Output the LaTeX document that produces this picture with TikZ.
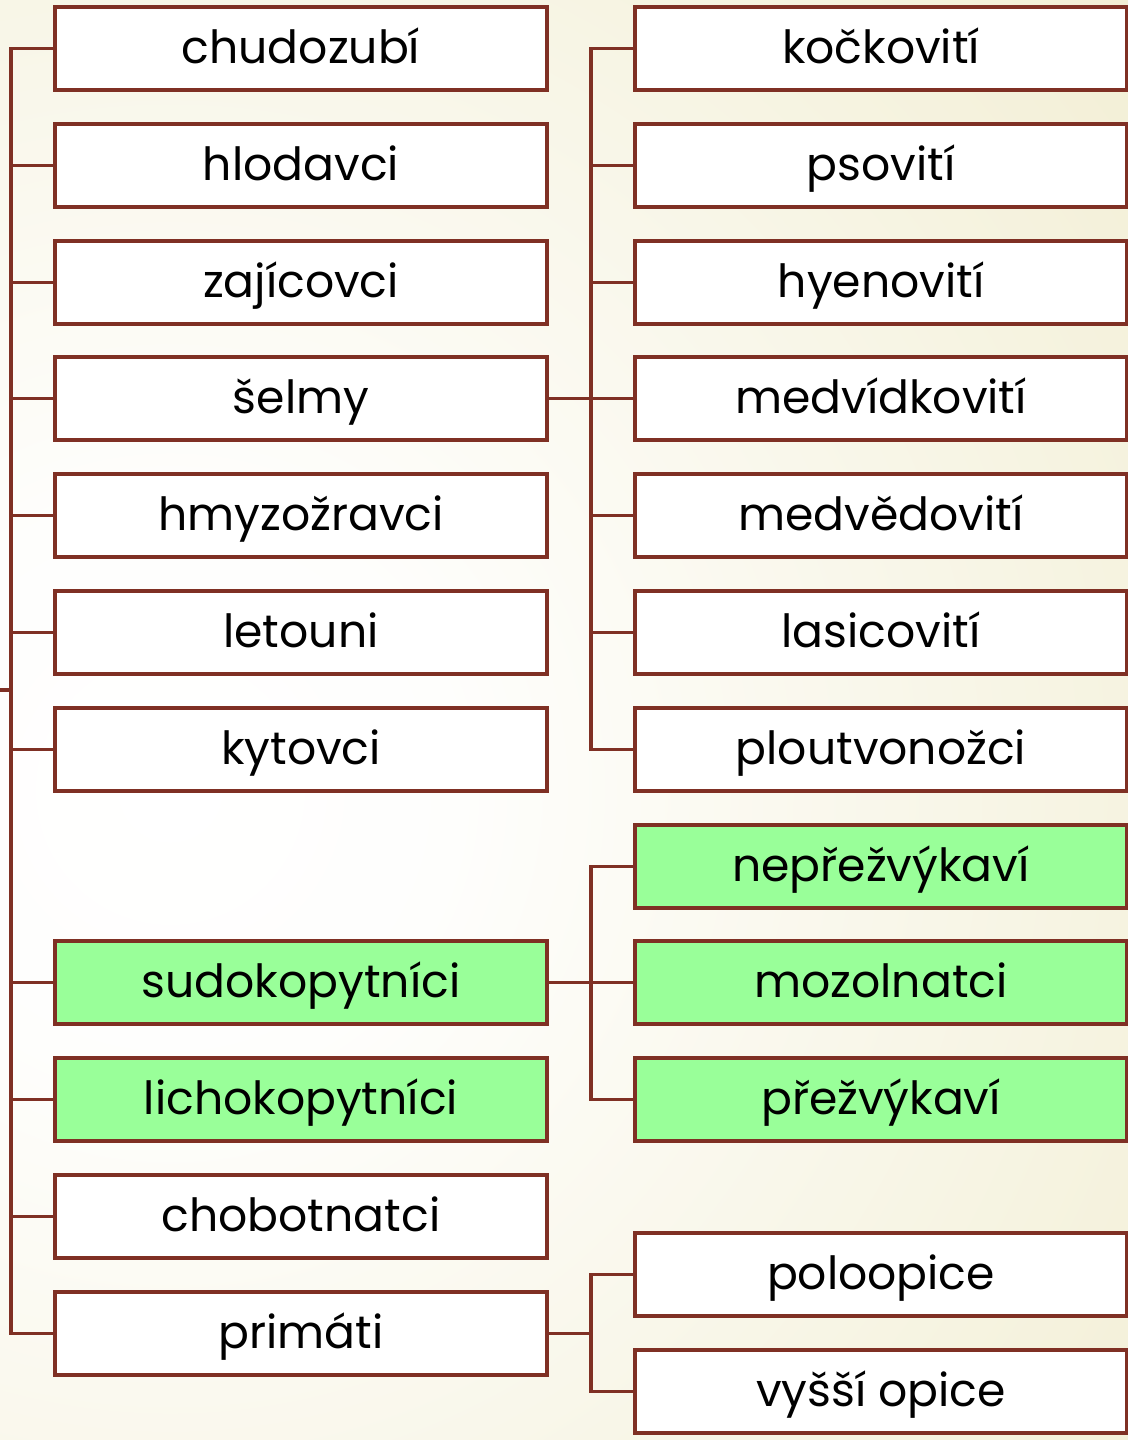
\documentclass[tikz,border=0pt]{standalone}
\usepackage{fontspec}
\setmainfont{Poppins}
\definecolor{lnc}{RGB}{127,48,36}
\definecolor{grn}{RGB}{153,255,153}
\definecolor{bgout}{RGB}{235,229,188}
\pgfdeclareradialshading{bgshade}{\pgfpoint{0bp}{0bp}}{color(0bp)=(white); color(5bp)=(white!96!bgout); color(33bp)=(bgout); color(50bp)=(bgout)}
\begin{document}
\begin{tikzpicture}[x=0.02cm,y=-0.02cm,
  box/.style={draw=lnc,line width=2pt,fill=white,minimum width=9.84cm,minimum height=1.66cm,inner sep=0pt,text height=0.6cm,text depth=0cm,font=\fontsize{26}{30}\selectfont},
  gbox/.style={box,fill=grn},
  ln/.style={draw=lnc,line width=2pt}]
\useasboundingbox (0,0) rectangle (1128,1440);
\begin{scope}
\clip (0,0) rectangle (1128,1440);
\fill[bgout] (0,0) rectangle (1128,1440);
\shade[shading=bgshade] (170,790) circle[radius=1400];
\end{scope}
% left column
\node[box] (l1) at (301,48.5) {chudozubí};
\node[box] (l2) at (301,165.5) {hlodavci};
\node[box] (l3) at (301,282.5) {zajícovci};
\node[box] (l4) at (301,398.5) {šelmy};
\node[box] (l5) at (301,515.5) {hmyzožravci};
\node[box] (l6) at (301,632.5) {letouni};
\node[box] (l7) at (301,749.5) {kytovci};
\node[gbox] (l8) at (301,982.5) {sudokopytníci};
\node[gbox] (l9) at (301,1099.5) {lichokopytníci};
\node[box] (l10) at (301,1216.5) {chobotnatci};
\node[box] (l11) at (301,1333.5) {primáti};
% right column
\node[box] (r1) at (881,48.5) {kočkovití};
\node[box] (r2) at (881,165.5) {psovití};
\node[box] (r3) at (881,282.5) {hyenovití};
\node[box] (r4) at (881,398.5) {medvídkovití};
\node[box] (r5) at (881,515.5) {medvědovití};
\node[box] (r6) at (881,632.5) {lasicovití};
\node[box] (r7) at (881,749.5) {ploutvonožci};
\node[gbox] (r8) at (881,866.5) {nepřežvýkaví};
\node[gbox] (r9) at (881,982.5) {mozolnatci};
\node[gbox] (r10) at (881,1099.5) {přežvýkaví};
\node[box] (r11) at (881,1274.5) {poloopice};
\node[box] (r12) at (881,1391.5) {vyšší opice};
% left trunk
\coordinate (root) at (0,690);
\draw[ln] (root) -- (11,690);
\draw[ln] (l1.west) -- (11,48.5) -- (11,1333.5) -- (l11.west);
\foreach \n in {l2,l3,l4,l5,l6,l7,l8,l9,l10} \draw[ln] (\n.west) -- (11,0 |- \n.west);
% šelmy
\draw[ln] (l4.east) -- (r4.west);
\draw[ln] (r1.west) -- (591,48.5) -- (591,749.5) -- (r7.west);
\foreach \n in {r2,r3,r5,r6} \draw[ln] (\n.west) -- (591,0 |- \n.west);
% sudokopytnici
\draw[ln] (l8.east) -- (r9.west);
\draw[ln] (r8.west) -- (591,866.5) -- (591,1099.5) -- (r10.west);
% primati
\draw[ln] (l11.east) -- (591,1333.5);
\draw[ln] (r11.west) -- (591,1274.5) -- (591,1391.5) -- (r12.west);
\end{tikzpicture}
\end{document}
